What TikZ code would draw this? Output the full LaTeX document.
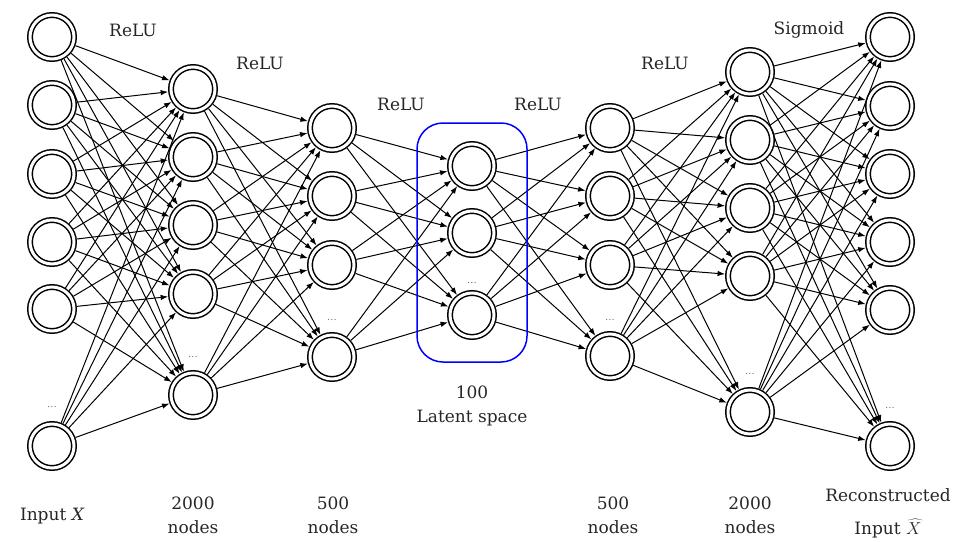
\documentclass[tikz,border=0pt]{standalone}
\usepackage{fontspec}
\setmainfont{DejaVu Serif}
\usetikzlibrary{arrows.meta}

\tikzset{
  neuron/.style = {circle, draw, double, line width=1.5pt, double distance=3pt,
                   minimum size=44pt, inner sep=0pt, outer sep=3pt},
  link/.style = {-{Latex[length=7.5pt,width=5.5pt]}, line width=1pt},
  lbl/.style = {font=\fontsize{17}{24}\selectfont, align=center, text=black!85},
  skipdots/.style = {font=\fontsize{10}{10}\selectfont, text=black!55}
}

\begin{document}
\begin{tikzpicture}[x=1pt, y=-1pt]

    \useasboundingbox (0,0) rectangle (960,541);

    \node [neuron] (x1) at (52,37) {};
    \node [neuron] (x2) at (52,105) {};
    \node [neuron] (x3) at (52,174) {};
    \node [neuron] (x4) at (52,242) {};
    \node [neuron] (x5) at (52,309) {};
    \node [neuron] (x6) at (52,446) {};

    \node [neuron] (e1) at (193,89) {};
    \node [neuron] (e2) at (193,157) {};
    \node [neuron] (e3) at (193,225) {};
    \node [neuron] (e4) at (193,294) {};
    \node [neuron] (e5) at (193,395) {};

    \node [neuron] (f1) at (332,128) {};
    \node [neuron] (f2) at (332,196) {};
    \node [neuron] (f3) at (332,265) {};
    \node [neuron] (f4) at (332,357) {};

    \node [neuron] (z1) at (472,166) {};
    \node [neuron] (z2) at (472,233) {};
    \node [neuron] (z3) at (472,315) {};

    \node [neuron] (g1) at (610,128) {};
    \node [neuron] (g2) at (610,196) {};
    \node [neuron] (g3) at (610,265) {};
    \node [neuron] (g4) at (610,356) {};

    \node [neuron] (d1) at (750,72) {};
    \node [neuron] (d2) at (750,140) {};
    \node [neuron] (d3) at (750,208) {};
    \node [neuron] (d4) at (750,276) {};
    \node [neuron] (d5) at (750,412) {};

    \node [neuron] (r1) at (890,37) {};
    \node [neuron] (r2) at (890,106) {};
    \node [neuron] (r3) at (890,174) {};
    \node [neuron] (r4) at (890,242) {};
    \node [neuron] (r5) at (890,310) {};
    \node [neuron] (r6) at (890,446) {};

    % dots over the last unit of each layer
    \node [skipdots] (xdots) at (52,407) {...};
    \node [skipdots] (edots) at (193,357) {...};
    \node [skipdots] (fdots) at (332,320) {...};
    \node [skipdots] (zdots) at (472,283) {...};
    \node [skipdots] (gdots) at (610,320) {...};
    \node [skipdots] (ddots) at (750,374) {...};
    \node [skipdots] (rdots) at (890,408) {...};

    \foreach \i in {1,...,6}
      \foreach \j in {1,...,5}
        \draw [link] (x\i) -- (e\j);
    \foreach \i in {1,...,5}
      \foreach \j in {1,...,4}
        \draw [link] (e\i) -- (f\j);
    \foreach \i in {1,...,4}
      \foreach \j in {1,...,3}
        \draw [link] (f\i) -- (z\j);
    \foreach \i in {1,...,3}
      \foreach \j in {1,...,4}
        \draw [link] (z\i) -- (g\j);
    \foreach \i in {1,...,4}
      \foreach \j in {1,...,5}
        \draw [link] (g\i) -- (d\j);
    \foreach \i in {1,...,5}
      \foreach \j in {1,...,6}
        \draw [link] (d\i) -- (r\j);

    \draw [blue, line width=1.5pt, rounded corners=26pt] (417,123) rectangle (527,362);

    \node [lbl] (act1) at (133,30) {ReLU};
    \node [lbl] (act2) at (260,63) {ReLU};
    \node [lbl] (act3) at (401,104) {ReLU};
    \node [lbl] (act4) at (538,104) {ReLU};
    \node [lbl] (act5) at (665,63) {ReLU};
    \node [lbl] (act6) at (809,30) {Sigmoid};

    \node [lbl] (latent) at (472,406) {100\\Latent space};

    \node [lbl] (inx) at (52,516) {Input $\mathit{X}$};
    \node [lbl] (n2000a) at (193,515) {2000\\nodes};
    \node [lbl] (n500a) at (333,515) {500\\nodes};
    \node [lbl] (n500b) at (613,515) {500\\nodes};
    \node [lbl] (n2000b) at (750,515) {2000\\nodes};
    \node [lbl] (outx) at (888,513) {Reconstructed\\[9pt]Input $\widehat{X}$};

\end{tikzpicture}
\end{document}
